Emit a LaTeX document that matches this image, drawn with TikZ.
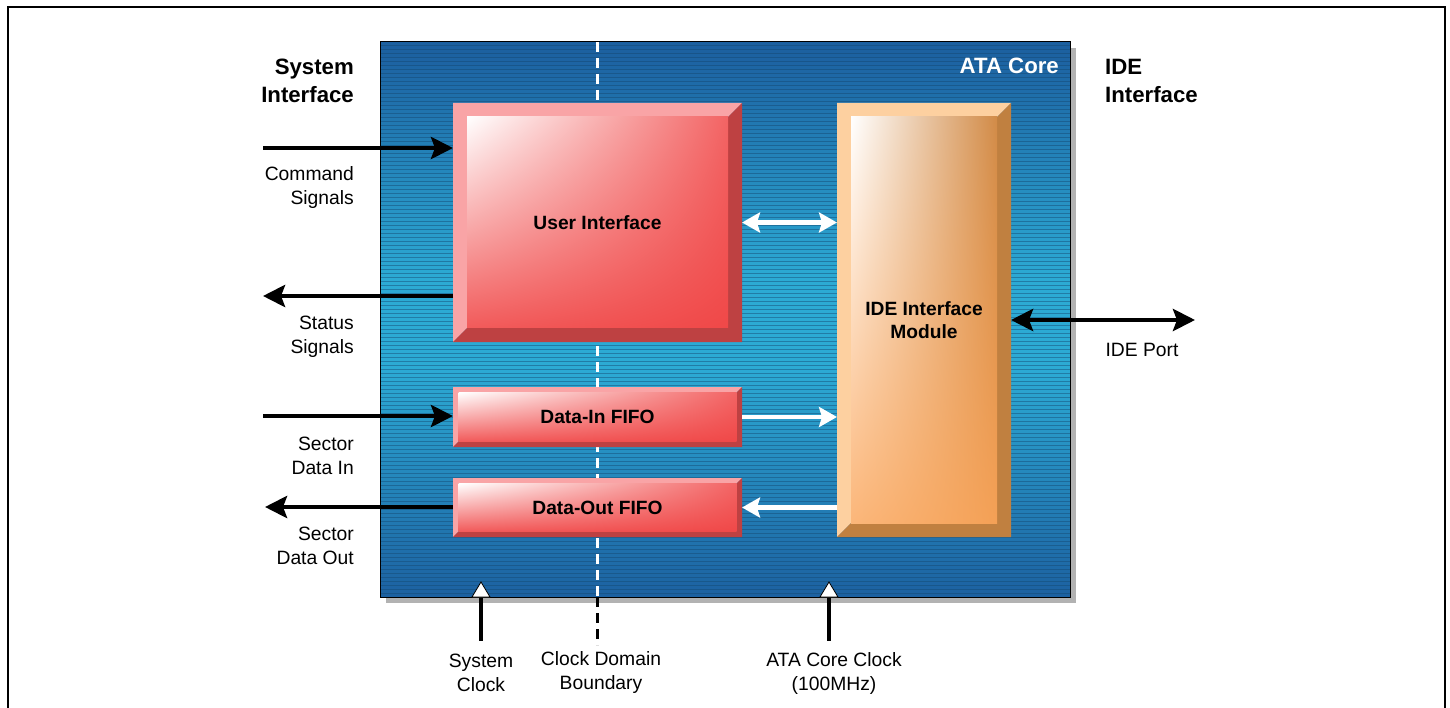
\documentclass[tikz,border=0pt]{standalone}
\usepackage{fontspec}
\setmainfont{Liberation Sans}
\usetikzlibrary{arrows.meta,calc,shadings}
\pgfdeclarelayer{background}
\pgfsetlayers{background,main}
\definecolor{coreDark}{RGB}{28,96,160}
\definecolor{coreLight}{RGB}{44,170,212}
\definecolor{coreLine}{RGB}{20,70,110}
\definecolor{pinkL}{RGB}{249,164,166}
\definecolor{redD}{RGB}{190,65,66}
\definecolor{redF}{RGB}{240,72,72}
\definecolor{orL}{RGB}{253,208,160}
\definecolor{orD}{RGB}{192,128,64}
\definecolor{orF}{RGB}{250,164,88}
\definecolor{shadowG}{RGB}{178,178,178}
\newcommand\bevelbox[5]{%
 \fill[#3] (#1.north west) -- (#1.north east) -- ($(#1.north east)+(-#2,#2)$) -- ($(#1.north west)+(#2,#2)$) -- ($(#1.south west)+(#2,-#2)$) -- (#1.south west) -- cycle;
 \fill[#4] (#1.north east) -- (#1.south east) -- (#1.south west) -- ($(#1.south west)+(#2,-#2)$) -- ($(#1.south east)+(-#2,-#2)$) -- ($(#1.north east)+(-#2,#2)$) -- cycle;
 \shade[#5] ($(#1.north west)+(#2,#2)$) rectangle ($(#1.south east)+(-#2,-#2)$);
}
\tikzset{
 lbl/.style={font=\fontsize{19.3}{24}\selectfont, inner sep=0pt},
 hdr/.style={font=\fontsize{22.2}{28}\selectfont\bfseries, inner sep=0pt},
 boxlbl/.style={font=\fontsize{19.2}{23}\selectfont\bfseries, align=center, inner sep=0pt, outer sep=0pt},
 blk/.style={line width=4.5pt, -{Stealth[length=22pt,width=22pt,inset=4pt]}},
 blkdbl/.style={line width=4.5pt, {Stealth[length=22pt,width=22pt,inset=4pt]}-{Stealth[length=22pt,width=22pt,inset=4pt]}},
 wht/.style={white, line width=4.5pt, -{Stealth[length=18pt,width=20pt,inset=3pt]}},
 whtdbl/.style={white, line width=4.5pt, {Stealth[length=18pt,width=20pt,inset=3pt]}-{Stealth[length=18pt,width=20pt,inset=3pt]}},
 clk/.style={line width=4pt},
 clktri/.style={fill=white, draw=black, line width=0.8pt},
}
\begin{document}
\begin{tikzpicture}[x=1pt,y=-1pt]
\useasboundingbox (0,0) rectangle (1450,708);
% frame
\draw[line width=1.5pt] (8,708) |- (1445,7) -- (1445,708);

% boxes as nodes
\node[minimum width=690pt, minimum height=555pt, inner sep=0pt, outer sep=0pt] (core) at (725,319.5) {};
\node[boxlbl, minimum width=289pt, minimum height=239pt] (ui) at (597.5,222.5) {User Interface};
\node[boxlbl, minimum width=289pt, minimum height=60pt] (din) at (597.5,417) {Data-In FIFO};
\node[boxlbl, minimum width=289pt, minimum height=59pt] (dout) at (597.5,507.5) {Data-Out FIFO};
\node[boxlbl, minimum width=174pt, minimum height=434pt] (ide) at (924,320) {IDE Interface\\Module};

\begin{pgfonlayer}{background}
 \fill[shadowG] ($(core.north west)+(6,6)$) rectangle ($(core.south east)+(6,6)$);
 \begin{scope}
  \clip (core.north west) rectangle (core.south east);
  \foreach \yy in {42,46,...,594} {
    \pgfmathsetmacro\pmix{min(100,max(0,abs(\yy+2-325)-45)/230*100)}
    \fill[coreDark!\pmix!coreLight] (380,\yy) rectangle (1070,\yy+4.3);
    \draw[coreLine, opacity=0.45, line width=0.7pt] (380,\yy+3.5) -- (1070,\yy+3.5);
  }
 \end{scope}
 \draw[black, line width=1pt] (core.north west) rectangle (core.south east);
 \draw[white, line width=3pt, dash pattern=on 10pt off 6pt] (core.north -| ui.center) -- (core.south -| ui.center);
 \bevelbox{ui}{14}{pinkL}{redD}{upper left=white, upper right=redF!85, lower left=redF!90, lower right=redF}
 \bevelbox{din}{5.5}{pinkL}{redD}{upper left=white, upper right=redF!85, lower left=redF!90, lower right=redF}
 \bevelbox{dout}{5.5}{pinkL}{redD}{upper left=white, upper right=redF!85, lower left=redF!90, lower right=redF}
 \bevelbox{ide}{14}{orL}{orD}{upper left=white, upper right=orD!70!orF, lower left=orF!80, lower right=orF!90!orD}
\end{pgfonlayer}

% black dashed below core
\coordinate (cdb) at ($(core.south -| ui.center)+(0,48)$);
\draw[black, line width=3pt, dash pattern=on 10pt off 6pt] (core.south -| ui.center) -- (cdb);

\node[hdr, white, anchor=east] (atacore) at (1059,66) {ATA Core};
\node[hdr, align=right, anchor=east] (sysif) at (354,81) {System\\Interface};
\node[hdr, align=left, anchor=west] (ideif) at (1105,81) {IDE\\Interface};

% left labels
\node[lbl, align=right, anchor=east] (cmdl) at (354,187.5) {Command\\Signals};
\node[lbl, align=right, anchor=east] (statl) at (354,336.5) {Status\\Signals};
\node[lbl, align=right, anchor=east] (sdil) at (354,455.5) {Sector\\Data In};
\node[lbl, align=right, anchor=east] (sdol) at (354,545.5) {Sector\\Data Out};
\node[lbl] (idepl) at (1142,350) {IDE Port};

% bottom labels
\node[lbl, align=center] (sysclk) at (481,673) {System\\Clock};
\node[lbl, align=center] (cdbl) at (601,673) {Clock Domain\\Boundary};
\node[lbl, align=center] (ataclk) at (834,673) {ATA Core Clock\\(100MHz)};

% system-side arrows
\coordinate (cmd) at (263,148);
\coordinate (stat) at (263,296);
\coordinate (sdi) at (263,416);
\coordinate (sdo) at (265,507);
\coordinate (idep) at (1195,320);
\draw[blk] (cmd) -- (cmd -| ui.west);
\draw[blk] (stat -| ui.west) -- (stat);
\draw[blk] (sdi) -- (sdi -| din.west);
\draw[blk] (sdo -| dout.west) -- (sdo);
\draw[blkdbl] (ide.east) -- (idep);

% internal white arrows
\draw[whtdbl] (ui.east) -- (ui.east -| ide.west);
\draw[wht] (din.east) -- (din.east -| ide.west);
\draw[wht] (dout.east -| ide.west) -- (dout.east);

% clocks
\coordinate (c1) at (core.south -| sysclk.center);
\coordinate (c2) at (829,597);
\draw[clk] (c1) -- ($(c1)+(0,44)$);
\draw[clk] (c2) -- ($(c2)+(0,44)$);
\draw[clktri] ($(c1)+(-9,0)$) -- ($(c1)+(0,-15)$) -- ($(c1)+(9,0)$) -- cycle;
\draw[clktri] ($(c2)+(-9,0)$) -- ($(c2)+(0,-15)$) -- ($(c2)+(9,0)$) -- cycle;
\end{tikzpicture}
\end{document}
